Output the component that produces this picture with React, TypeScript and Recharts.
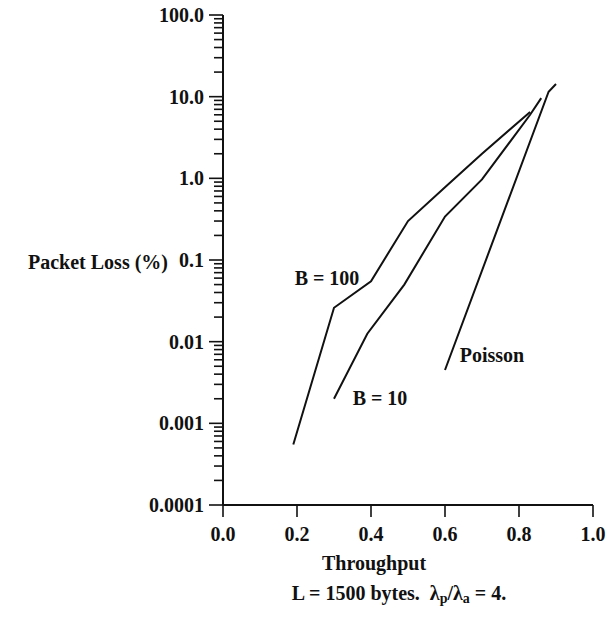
import React from 'react';
import { LineChart, Line, XAxis, YAxis } from 'recharts';

// ---- data ----
const b100Throughput = [0.19, 0.3, 0.4, 0.5, 0.6, 0.7, 0.83];
const b100Loss = [0.00055, 0.026, 0.055, 0.3, 0.78, 2.0, 6.5];

const b10Throughput = [0.3, 0.39, 0.49, 0.6, 0.7, 0.83, 0.86];
const b10Loss = [0.002, 0.0125, 0.05, 0.34, 0.97, 6.0, 9.6];

const poissonThroughput = [0.6, 0.88, 0.9];
const poissonLoss = [0.0045, 11.5, 14.3];

const xTicks = [0, 0.2, 0.4, 0.6, 0.8, 1.0];
const xTickLabels = ['0.0', '0.2', '0.4', '0.6', '0.8', '1.0'];
const yMajorTicks = [0.0001, 0.001, 0.01, 0.1, 1, 10, 100];
const yMajorLabels = ['0.0001', '0.001', '0.01', '0.1', '1.0', '10.0', '100.0'];
const minorMultipliers = [2, 3, 4, 5, 6, 7, 8, 9];

const seriesLabels = ['B = 100', 'B = 10', 'Poisson'];

const toRows = (xs: number[], ys: number[]) => xs.map((x, i) => ({ x, loss: ys[i] }));
const b100Data = toRows(b100Throughput, b100Loss);
const b10Data = toRows(b10Throughput, b10Loss);
const poissonData = toRows(poissonThroughput, poissonLoss);

const yAllTicks: number[] = [];
yMajorTicks.forEach((d, i) => {
  yAllTicks.push(d);
  if (i < yMajorTicks.length - 1) minorMultipliers.forEach((m) => yAllTicks.push(d * m));
});

const FONT = '"Liberation Serif", "Times New Roman", serif';
const INK = '#111';
const FS = 20;
const FW = 700;
const Y_TICK_SIZE = 14;
const Y_TICK_MARGIN = 5;

const YTick = (props: any) => {
  const { x, y, payload } = props;
  const v = payload.value;
  const idx = yMajorTicks.findIndex((m) => Math.abs(m - v) / m < 1e-6);
  const major = idx >= 0;
  const ax = x + Y_TICK_SIZE + Y_TICK_MARGIN;
  return (
    <g>
      <line x1={ax - (major ? 14 : 9)} y1={y} x2={ax} y2={y} stroke={INK} strokeWidth={1.6} />
      {major && (
        <text x={x} y={y} textAnchor="end" dominantBaseline="central" fontFamily={FONT} fontSize={FS} fontWeight={FW} fill={INK}>
          {yMajorLabels[idx]}
        </text>
      )}
    </g>
  );
};

export default function App() {
  const textProps = { fontFamily: FONT, fontSize: FS, fontWeight: FW, fill: INK };
  return (
    <div style={{ position: 'absolute', left: 0, top: 0, width: 612, height: 626, background: '#fff' }}>
      <LineChart width={612} height={626} margin={{ top: 15, right: 19, left: 0, bottom: 81 }}>
        <XAxis
          dataKey="x"
          type="number"
          domain={[0, 1]}
          ticks={xTicks}
          interval={0}
          height={40}
          tickSize={12}
          tickMargin={10}
          tickFormatter={(v: number) => xTickLabels[xTicks.findIndex((t) => Math.abs(t - v) < 1e-9)]}
          tick={{ fontFamily: FONT, fontSize: FS, fontWeight: FW, fill: INK }}
          tickLine={{ stroke: INK, strokeWidth: 1.6 }}
          axisLine={{ stroke: INK, strokeWidth: 2 }}
          allowDataOverflow
        />
        <YAxis
          dataKey="loss"
          type="number"
          scale="log"
          domain={[0.0001, 100]}
          ticks={yAllTicks}
          interval={0}
          width={223}
          tickSize={Y_TICK_SIZE}
          tickMargin={Y_TICK_MARGIN}
          tick={<YTick />}
          tickLine={false}
          axisLine={{ stroke: INK, strokeWidth: 2 }}
          allowDataOverflow
        />
        <Line data={b100Data} dataKey="loss" stroke={INK} strokeWidth={2} dot={false} isAnimationActive={false} />
        <Line data={b10Data} dataKey="loss" stroke={INK} strokeWidth={2} dot={false} isAnimationActive={false} />
        <Line data={poissonData} dataKey="loss" stroke={INK} strokeWidth={2} dot={false} isAnimationActive={false} />
      </LineChart>
      <svg width={612} height={626} style={{ position: 'absolute', left: 0, top: 0, pointerEvents: 'none' }}>
        <text x={168} y={262} textAnchor="end" dominantBaseline="central" {...textProps}>Packet Loss (%)</text>
        <text x={327} y={278} textAnchor="middle" dominantBaseline="central" {...textProps}>{seriesLabels[0]}</text>
        <text x={380} y={398} textAnchor="middle" dominantBaseline="central" {...textProps}>{seriesLabels[1]}</text>
        <text x={492} y={355} textAnchor="middle" dominantBaseline="central" {...textProps}>{seriesLabels[2]}</text>
        <text x={374} y={563} textAnchor="middle" dominantBaseline="central" {...textProps}>Throughput</text>
        <text x={399} y={593} textAnchor="middle" dominantBaseline="central" {...textProps}>
          L = 1500 bytes.{'\u00A0\u00A0'}λ<tspan fontSize={14} dy={5}>p</tspan><tspan dy={-5}>/λ</tspan>
          <tspan fontSize={14} dy={5}>a</tspan><tspan dy={-5}> = 4.</tspan>
        </text>
      </svg>
    </div>
  );
}
